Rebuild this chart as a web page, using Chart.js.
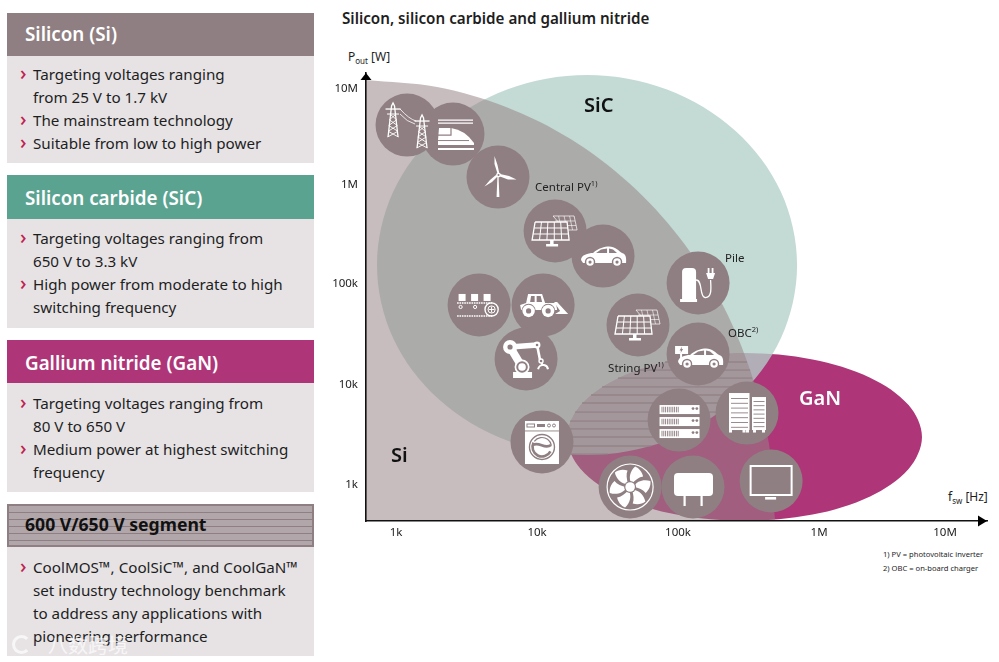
<!DOCTYPE html>
<html>
<head>
    <title>Silicon, silicon carbide and gallium nitride</title>
    <script src="https://cdn.jsdelivr.net/npm/chart.js"></script>
    <style>
        html, body {
            margin: 0;
            background: #fff;
            width: 999px;
            height: 662px;
            overflow: hidden;
            font-family: "Noto Sans", sans-serif;
            color: #1e1e1e;
        }
        .head, .body, .txt { position: absolute; }
        .head {
            left: 7px;
            width: 307px;
            height: 43px;
            line-height: 43px;
            color: #fff;
            font-size: 18.8px;
            font-weight: 600;
            text-indent: 18px;
        }
        .body { left: 7px; width: 307px; background: #e7e3e5; }
        .line {
            position: absolute;
            left: 26px;
            height: 23px;
            line-height: 23px;
            font-size: 15.2px;
            white-space: nowrap;
        }
        .line i {
            position: absolute;
            left: -13px;
            top: -2px;
            font-size: 20px;
            font-style: normal;
            font-weight: 500;
            color: #c0224f;
        }
        #seg {
            top: 504px;
            height: 39px;
            line-height: 37px;
            width: 303px;
            border: 2px solid #8f7f82;
            color: #111;
            font-size: 17.6px;
            font-weight: 700;
            text-indent: 16px;
            background: repeating-linear-gradient(#b1a7aa 0, #b1a7aa 6px, #8f7f82 6px, #8f7f82 7px);
        }
        #mark { position: absolute; left: 48px; top: 630px; font: 20px "Noto Sans CJK SC"; color: rgba(255,255,255,.7); white-space: nowrap; }
        #logo { position: absolute; left: 12px; top: 635px; width: 13px; height: 13px; border: 3px solid rgba(255,255,255,.7); border-right-color: transparent; border-radius: 50%; }
        #chartBox { position: absolute; left: 330px; top: 0; }
    </style>
</head>
<body>
    <div class="head" style="top:13px;background:#8f7f82">Silicon (Si)</div>
    <div class="body" style="top:56px;height:107px">
        <div class="line" style="top:7px"><i>›</i>Targeting voltages ranging</div>
        <div class="line" style="top:30px">from 25 V to 1.7 kV</div>
        <div class="line" style="top:53px"><i>›</i>The mainstream technology</div>
        <div class="line" style="top:76px"><i>›</i>Suitable from low to high power</div>
    </div>
    <div class="head" style="top:175px;height:44px;line-height:46px;background:#5ba391">Silicon carbide (SiC)</div>
    <div class="body" style="top:219px;height:109px">
        <div class="line" style="top:8px"><i>›</i>Targeting voltages ranging from</div>
        <div class="line" style="top:31px">650 V to 3.3 kV</div>
        <div class="line" style="top:54px"><i>›</i>High power from moderate to high</div>
        <div class="line" style="top:77px">switching frequency</div>
    </div>
    <div class="head" style="top:340px;line-height:46px;background:#ae3678">Gallium nitride (GaN)</div>
    <div class="body" style="top:383px;height:109px">
        <div class="line" style="top:9px"><i>›</i>Targeting voltages ranging from</div>
        <div class="line" style="top:32px">80 V to 650 V</div>
        <div class="line" style="top:55px"><i>›</i>Medium power at highest switching</div>
        <div class="line" style="top:78px">frequency</div>
    </div>
    <div class="head" id="seg">600 V/650 V segment</div>
    <div class="body" style="top:547px;height:109px">
        <div class="line" style="top:9px"><i>›</i>CoolMOS™, CoolSiC™, and CoolGaN™</div>
        <div class="line" style="top:32px">set industry technology benchmark</div>
        <div class="line" style="top:55px">to address any applications with</div>
        <div class="line" style="top:78px">pioneering performance</div>
    </div>
    <div id="logo"></div>
    <div id="mark">八数跨境</div>

    <div class="txt" style="left:342px;top:8px;font-size:15.2px;font-weight:600;white-space:nowrap">Silicon, silicon carbide and gallium nitride</div>
    <div class="txt" style="left:348px;top:48px;font-size:12px;white-space:nowrap">P<sub style="font-size:8px">out</sub> [W]</div>
    <div class="txt" style="left:948px;top:488px;font-size:12px;white-space:nowrap">f<sub style="font-size:8px">sw</sub> [Hz]</div>
    <div class="txt" style="left:883px;top:549px;font-size:7.6px;white-space:nowrap">1) PV = photovoltaic inverter</div>
    <div class="txt" style="left:883px;top:563px;font-size:7.6px;white-space:nowrap">2) OBC = on-board charger</div>

    <div id="chartBox"><canvas id="socChart" width="669" height="662"></canvas></div>

    <script>
        // Axes: switching frequency in Hz, output power in W, both log
        const xTickValues = [1e3, 1e4, 1e5, 1e6, 7.83e6];
        const xTickLabels = ['1k', '10k', '100k', '1M', '10M'];
        const yTickValues = [1e3, 1e4, 1.01e5, 1e6, 8.9e6];
        const yTickLabels = ['1k', '10k', '100k', '1M', '10M'];

        // Region outlines, as log10 of Hz and W
        const siLogF = [2.787, 3.291, 3.780, 4.238, 4.652, 5.007, 5.298, 5.511, 5.645, 5.688];
        const siLogP = [7.040, 6.970, 6.771, 6.451, 6.012, 5.474, 4.845, 4.147, 3.409, 2.641];

        // closed outlines: the ends overlap by one point each way so the seam stays smooth
        const sicLogF = [2.979, 2.865, 2.979, 3.301, 3.787, 4.355, 4.922, 5.408, 5.730, 5.844, 5.730, 5.408, 4.922, 4.355, 3.787, 3.301, 2.979, 2.865, 2.979];
        const sicLogP = [4.466, 5.195, 5.923, 6.531, 6.945, 7.090, 6.945, 6.531, 5.923, 5.195, 4.466, 3.858, 3.444, 3.299, 3.444, 3.858, 4.466, 5.195, 5.923];

        const ganLogF = [4.309, 4.213, 4.309, 4.582, 4.989, 5.472, 5.954, 6.362, 6.635, 6.730, 6.635, 6.362, 5.954, 5.472, 4.989, 4.582, 4.309, 4.213, 4.309];
        const ganLogP = [3.160, 3.479, 3.798, 4.071, 4.253, 4.317, 4.253, 4.071, 3.798, 3.479, 3.160, 2.886, 2.705, 2.641, 2.705, 2.886, 3.160, 3.479, 3.798];

        // 600 V/650 V hatching: one row per stripe
        const stripeLogP = [4.227, 4.147, 4.067, 3.978, 3.898, 3.818, 3.728, 3.638, 3.559, 3.479, 3.389, 3.309];
        const stripeFrom = [4.908, 4.716, 4.574, 4.461, 4.383, 4.319, 4.270, 4.234, 4.220, 4.213, 4.220, 4.241];
        const stripeTo   = [5.489, 5.511, 5.525, 5.496, 5.440, 5.376, 5.298, 5.206, 5.106, 4.986, 4.809, 4.504];

        // Applications
        const appNames = ['grid', 'train', 'wind', 'solar', 'car', 'conveyor', 'loader', 'robot', 'solar', 'pile', 'obc', 'servers', 'rack', 'washer', 'fan', 'adapter', 'tv'];
        const appLogF = [3.078, 3.404, 3.723, 4.128, 4.468, 3.589, 4.043, 3.922, 4.716, 5.142, 5.142, 5.007, 5.489, 4.035, 4.660, 5.106, 5.660];
        const appLogP = [6.591, 6.501, 6.072, 5.534, 5.284, 4.796, 4.796, 4.257, 4.596, 5.015, 4.307, 3.648, 3.718, 3.429, 2.980, 2.980, 3.040];

        // Text inside the plot
        const noteText = ['Central PV', 'Pile', 'OBC', 'String PV'];
        const noteSup = ['1)', '', '2)', '1)'];
        const noteLogF = [3.986, 5.333, 5.355, 4.504];
        const noteLogP = [5.963, 5.254, 4.506, 4.157];
        const regionText = ['SiC', 'GaN', 'Si'];
        const regionColor = ['#111', '#fff', '#111'];
        const regionLogF = [4.333, 5.858, 2.965];
        const regionLogP = [6.776, 3.860, 3.290];

        const disc = '#8f7f82';
        const toPoints = (fs, ps) => fs.map((f, i) => ({ x: 10 ** f, y: 10 ** ps[i] }));

        function stripePoints() {
            const pts = [];
            stripeLogP.forEach((p, i) => {
                pts.push({ x: 10 ** stripeFrom[i], y: 10 ** p }, { x: 10 ** stripeTo[i], y: 10 ** p }, { x: null, y: null });
            });
            return pts;
        }

        function line(c, pts, w) {
            c.lineWidth = w;
            c.beginPath();
            pts.forEach((p, i) => i ? c.lineTo(p[0], p[1]) : c.moveTo(p[0], p[1]));
            c.stroke();
        }
        function shape(c, pts) {
            c.beginPath();
            pts.forEach((p, i) => i ? c.lineTo(p[0], p[1]) : c.moveTo(p[0], p[1]));
            c.closePath();
            c.fill();
        }
        function dot(c, x, y, r, color) {
            c.fillStyle = color || '#fff';
            c.beginPath();
            c.arc(x, y, r, 0, Math.PI * 2);
            c.fill();
            c.fillStyle = '#fff';
        }
        function tower(c, x, top, h) {
            const b = top + h;
            line(c, [[x - 5, b], [x - 1.5, top + 3], [x, top], [x + 1.5, top + 3], [x + 5, b]], 1.3);
            line(c, [[x - 7.5, top + 6], [x + 7.5, top + 6]], 1.3);
            line(c, [[x - 6, top + 11], [x + 6, top + 11]], 1);
            for (let k = 0; k < 4; k++) {
                const y1 = top + 11 + k * (h - 11) / 4, y2 = y1 + (h - 11) / 4;
                const w1 = 2 + (y1 - top) * 0.1, w2 = 2 + (y2 - top) * 0.1;
                line(c, [[x - w1, y1], [x + w2, y2]], 0.9);
                line(c, [[x + w1, y1], [x - w2, y2]], 0.9);
            }
        }
        function panel(c) {
            c.strokeStyle = '#fff';
            const back = [[-2, -15], [19, -15], [22, -1], [10, -1]];
            line(c, back.concat([back[0]]), 0.7);
            for (let k = 1; k < 4; k++) {
                line(c, [[-2 + k * 5.5, -15], [1 + k * 5.5, -1]], 0.6);
            }
            line(c, [[0, -10], [20, -10]], 0.6);
            line(c, [[1, -5.5], [21, -5.5]], 0.6);
            c.fillStyle = disc;
            shape(c, [[-20, -9], [12, -9], [14, 9], [-23, 9]]);
            c.fillStyle = '#fff';
            line(c, [[-20, -9], [12, -9], [14, 9], [-23, 9], [-20, -9]], 1.3);
            line(c, [[-21, -3], [13, -3]], 1);
            line(c, [[-22, 3], [13.5, 3]], 1);
            for (let k = 1; k < 5; k++) {
                line(c, [[-20 + k * 6.4, -9], [-23 + k * 7.4, 9]], 1);
            }
            c.fillRect(-5, 9, 3.5, 4);
            c.fillRect(-9, 13, 12, 2.5);
        }
        function car(c) {
            c.beginPath();
            c.moveTo(-22, 4);
            c.bezierCurveTo(-22, -1, -15, -3, -10, -3);
            c.bezierCurveTo(-5, -8, 2, -9.5, 6, -9.5);
            c.bezierCurveTo(12, -9.5, 16, -5, 19, -3);
            c.bezierCurveTo(23, -2, 23.5, 2, 23, 7);
            c.lineTo(-20, 7);
            c.closePath();
            c.fill();
            c.fillStyle = disc;
            shape(c, [[-7, -3], [-2, -6.5], [4, -7.5], [4, -3]]);
            shape(c, [[6, -7.5], [10, -6.5], [14, -3], [6, -3]]);
            c.fillStyle = '#fff';
            [-13, 14].forEach(x => {
                dot(c, x, 6, 5.2, disc);
                dot(c, x, 6, 3.8);
                dot(c, x, 6, 1.6, disc);
            });
        }

        const icons = {
            grid(c) {
                tower(c, -14, -22, 34);
                tower(c, 15, -10, 33);
                c.lineWidth = 0.8;
                c.beginPath();
                c.moveTo(-7, -16);
                c.quadraticCurveTo(2, -6, 9, -4);
                c.moveTo(-7, -11);
                c.quadraticCurveTo(0, -3, 8, -1);
                c.stroke();
            },
            train(c) {
                line(c, [[-15, -14], [20, -14]], 1.2);
                line(c, [[-15, -11], [20, -11]], 1.2);
                c.beginPath();
                c.moveTo(-14, -6);
                c.lineTo(-2, -6);
                c.quadraticCurveTo(12, -4, 21, 9);
                c.lineTo(21, 11);
                c.lineTo(-15, 11);
                c.lineTo(-15, 6);
                c.closePath();
                c.fill();
                c.strokeStyle = disc;
                line(c, [[-16, 1], [-2, 1], [-2, -6]], 1.2);
                line(c, [[-16, 6.5], [16, 6.5]], 1);
                c.strokeStyle = '#fff';
                line(c, [[-15, 15], [21, 15]], 2);
            },
            wind(c) {
                shape(c, [[-0.6, 0], [0.6, 0], [1.4, 20], [-1.4, 20]]);
                dot(c, 0.5, -2, 2.4);
                shape(c, [[-0.5, -3.5], [1.5, -3], [-0.5, -12], [-3.5, -21], [-3.5, -13]]);
                shape(c, [[2, -3], [2, -0.5], [10, 2.5], [18.5, 2.5], [11, -1]]);
                shape(c, [[0, -1], [-2, -2], [-8, 3], [-13.5, 9.5], [-6, 5]]);
                dot(c, 0.5, -2, 1, disc);
            },
            solar: panel,
            car,
            conveyor(c) {
                c.fillRect(-20.5, -11, 7, 7);
                c.fillRect(-8, -11, 7, 7);
                c.fillRect(4.5, -11, 7, 7);
                c.setLineDash([1.6, 0.8]);
                line(c, [[-22, -2], [14, -2]], 1.6);
                line(c, [[-22, 11], [14, 11]], 1.6);
                c.setLineDash([]);
                c.lineWidth = 1.4;
                c.beginPath();
                c.arc(12.5, 4.5, 6.6, 0, Math.PI * 2);
                c.stroke();
                c.lineWidth = 1;
                c.beginPath();
                c.arc(12.5, 4.5, 3.6, 0, Math.PI * 2);
                c.moveTo(9.5, 4.5);
                c.lineTo(15.5, 4.5);
                c.moveTo(12.5, 1.5);
                c.lineTo(12.5, 7.5);
                c.stroke();
                [-18.5, -4].forEach(x => {
                    c.beginPath();
                    c.arc(x, 2, 1.6, 0, Math.PI * 2);
                    c.stroke();
                });
            },
            loader(c) {
                shape(c, [[-15, -11], [-1, -11], [2, -2], [13, -2], [14, 5], [-22, 5], [-23, 0], [-17, -2]]);
                c.fillStyle = disc;
                shape(c, [[-12, -9], [-8.5, -9], [-8.5, -3], [-13, -3]]);
                shape(c, [[-6.5, -9], [-2.5, -9], [-1, -3], [-6.5, -3]]);
                c.fillStyle = '#fff';
                shape(c, [[11, -3], [14, -3], [25, 9], [12, 9], [17, 6]]);
                [-14.5, 5].forEach(x => {
                    dot(c, x, 6, 7.2, disc);
                    dot(c, x, 6, 6.2);
                    dot(c, x, 6, 2.6, disc);
                });
            },
            robot(c) {
                c.fillRect(-13, 13, 19, 6);
                line(c, [[-4, 8], [-16, -12]], 8);
                line(c, [[-16, -12], [11, -14]], 5.5);
                line(c, [[11, -14], [14, 1]], 2.6);
                dot(c, -4, 8, 7.5);
                dot(c, -4, 8, 5.8, disc);
                dot(c, -4, 8, 3.8);
                dot(c, -16, -12, 7);
                dot(c, -16, -12, 2.6, disc);
                dot(c, 11, -14, 3.4);
                dot(c, 11, -14, 1.3, disc);
                c.lineWidth = 1.4;
                c.beginPath();
                c.arc(15, 2, 2, 0, Math.PI * 2);
                c.stroke();
                c.lineWidth = 2;
                c.beginPath();
                c.arc(17, 11, 5, Math.PI * 1.05, Math.PI * 1.95);
                c.stroke();
                line(c, [[15.5, 4], [16.8, 6.5]], 2);
            },
            pile(c) {
                c.beginPath();
                c.moveTo(-16, 16);
                c.lineTo(-16, -11);
                c.quadraticCurveTo(-16, -15, -12, -15);
                c.lineTo(-6, -15);
                c.quadraticCurveTo(-2, -15, -2, -11);
                c.lineTo(-2, 16);
                c.closePath();
                c.fill();
                c.fillRect(-18, 16, 17, 3);
                c.lineWidth = 1.3;
                c.beginPath();
                c.moveTo(-2, -3);
                c.bezierCurveTo(5, -3, 1, 14, 7, 14.5);
                c.bezierCurveTo(14, 15, 13, 5, 12.5, -3);
                c.stroke();
                c.beginPath();
                c.moveTo(8, -10);
                c.lineTo(17, -10);
                c.lineTo(15, -4);
                c.lineTo(10, -4);
                c.closePath();
                c.fill();
                c.fillRect(9.6, -15, 1.8, 5);
                c.fillRect(13.6, -15, 1.8, 5);
            },
            obc(c) {
                c.save();
                c.translate(2, 4);
                car(c);
                c.restore();
                c.fillStyle = disc;
                c.fillRect(-24, -9, 15, 10);
                c.fillStyle = '#fff';
                c.fillRect(-23, -8, 13, 8);
                c.fillRect(-18, 0, 2, 4);
                c.fillStyle = disc;
                shape(c, [[-16, -7.5], [-18.5, -3.5], [-17, -3.5], [-17.5, -1], [-15, -5], [-16.5, -5]]);
                c.fillStyle = '#fff';
            },
            servers(c) {
                [-15, -3, 9].forEach(y => {
                    c.fillStyle = '#fff';
                    c.fillRect(-19.5, y, 40, 9);
                    c.fillStyle = disc;
                    for (let k = 0; k < 10; k++) {
                        c.fillRect(-17.5 + k * 1.8, y + 1.7, 0.9, 5.6);
                    }
                });
                c.fillStyle = '#fff';
                [-10.5, 1.5, 13.5].forEach(y => {
                    dot(c, 14, y - 1, 1.4, disc);
                    dot(c, 17.8, y - 1, 1.4, disc);
                });
            },
            rack(c) {
                c.fillRect(-18, -20, 20.5, 37);
                c.fillRect(5, -16, 14, 33);
                [-18, -4.5, -1, 6, 15].forEach(x => c.fillRect(x, 17, 3, 2.5));
                c.fillStyle = disc;
                for (let k = 0; k < 7; k++) {
                    c.fillRect(-16, -15 + k * 4.8, 17, 0.9);
                    c.fillRect(6.5, -12 + k * 4.2, 11, 0.9);
                }
                c.fillStyle = '#fff';
            },
            washer(c) {
                c.fillRect(-17, -21, 34, 43);
                c.fillStyle = disc;
                c.fillRect(-17, -11.5, 34, 0.9);
                c.fillRect(-5, -18, 8, 3);
                c.fillStyle = '#fff';
                c.strokeStyle = disc;
                c.lineWidth = 1;
                c.strokeRect(-15, -18, 7.5, 3);
                [7, 12].forEach(x => {
                    c.beginPath();
                    c.arc(x, -16.5, 1.5, 0, Math.PI * 2);
                    c.stroke();
                });
                c.lineWidth = 1.4;
                c.beginPath();
                c.arc(0, 5, 12.5, 0, Math.PI * 2);
                c.stroke();
                c.lineWidth = 2.6;
                c.beginPath();
                c.arc(0, 5, 9.5, Math.PI * 0.15, Math.PI * 1.15);
                c.stroke();
                c.beginPath();
                c.moveTo(-9, 3);
                c.bezierCurveTo(-3, -1, 3, 8, 9, 3);
                c.stroke();
                c.lineWidth = 1.2;
                c.beginPath();
                c.arc(0, 5, 9.5, Math.PI * 1.2, Math.PI * 1.95);
                c.stroke();
                c.strokeStyle = '#fff';
            },
            fan(c) {
                c.lineWidth = 1.2;
                c.beginPath();
                c.arc(0, 0, 23, 0, Math.PI * 2);
                c.stroke();
                for (let k = 0; k < 6; k++) {
                    c.save();
                    c.rotate(k * Math.PI / 3);
                    c.beginPath();
                    c.moveTo(1.5, -3);
                    c.bezierCurveTo(-2, -9, 0, -16, 5, -20.5);
                    c.bezierCurveTo(9, -19, 12, -15, 13, -10.5);
                    c.bezierCurveTo(9, -10, 5, -7, 1.5, -3);
                    c.fill();
                    c.restore();
                }
                dot(c, 0, 0, 6, disc);
                dot(c, 0, 0, 4.8);
            },
            adapter(c) {
                c.beginPath();
                c.roundRect(-19, -14, 39, 23, 4);
                c.fill();
                c.fillRect(-9.5, 9, 2.2, 10);
                c.fillRect(7.5, 9, 2.2, 10);
            },
            tv(c) {
                c.lineWidth = 2;
                c.strokeRect(-20.5, -15, 41, 29);
                c.fillRect(-6, 16, 11, 2.6);
            }
        };

        const drawApps = {
            id: 'drawApps',
            afterDatasetsDraw(chart) {
                const c = chart.ctx;
                const meta = chart.getDatasetMeta(3);
                meta.data.forEach((el, i) => {
                    c.save();
                    c.translate(el.x, el.y);
                    c.fillStyle = '#fff';
                    c.strokeStyle = '#fff';
                    c.lineCap = 'butt';
                    icons[appNames[i]](c);
                    c.restore();
                });

                const xs = chart.scales.x, ys = chart.scales.y;
                c.save();
                c.textBaseline = 'middle';
                c.textAlign = 'left';
                noteText.forEach((t, i) => {
                    const x = xs.getPixelForValue(10 ** noteLogF[i]);
                    const y = ys.getPixelForValue(10 ** noteLogP[i]);
                    c.fillStyle = '#222';
                    c.font = '11.5px "Noto Sans"';
                    c.fillText(t, x, y);
                    const w = c.measureText(t).width;
                    c.font = '7.5px "Noto Sans"';
                    c.fillText(noteSup[i], x + w, y - 4);
                });
                c.font = '600 20px "Noto Sans"';
                regionText.forEach((t, i) => {
                    c.fillStyle = regionColor[i];
                    c.fillText(t, xs.getPixelForValue(10 ** regionLogF[i]), ys.getPixelForValue(10 ** regionLogP[i]));
                });
                c.restore();
            },
            afterDraw(chart) {
                // axis arrow heads
                const c = chart.ctx, a = chart.chartArea;
                c.save();
                c.fillStyle = '#000';
                shape(c, [[a.left, a.top], [a.left + 5.5, a.top + 7], [a.left - 5.5, a.top + 7]]);
                shape(c, [[a.right, a.bottom], [a.right - 9, a.bottom - 5.5], [a.right - 9, a.bottom + 5.5]]);
                c.restore();
            }
        };

        const tickFont = { family: '"Noto Sans"', size: 11.5 };

        new Chart(document.getElementById('socChart').getContext('2d'), {
            type: 'scatter',
            data: {
                datasets: [
                    // lower order is painted later
                    { label: 'Si', data: toPoints(siLogF, siLogP), showLine: true, order: 4, fill: 'start', tension: 0.34, borderWidth: 0, pointRadius: 0, backgroundColor: 'rgba(149,130,132,0.53)' },
                    { label: 'SiC', data: toPoints(sicLogF, sicLogP), showLine: true, order: 5, fill: 'shape', tension: 0.34, borderWidth: 0, pointRadius: 0, backgroundColor: 'rgba(179,208,201,0.78)' },
                    { label: 'GaN', data: toPoints(ganLogF, ganLogP), showLine: true, order: 6, fill: 'shape', tension: 0.34, borderWidth: 0, pointRadius: 0, backgroundColor: '#ae3678' },
                    { label: 'Applications', data: toPoints(appLogF, appLogP), order: 1, pointRadius: 31.5, borderWidth: 0, backgroundColor: disc, hoverRadius: 31.5 },
                    { label: '600 V/650 V', data: stripePoints(), showLine: true, order: 3, spanGaps: false, tension: 0, borderWidth: 1.8, pointRadius: 0, borderColor: 'rgba(143,127,130,0.65)' }
                ]
            },
            plugins: [drawApps],
            options: {
                responsive: false,
                animation: false,
                events: [],
                layout: { autoPadding: false, padding: { left: 0, top: 73, right: 12, bottom: 101 } },
                plugins: { legend: { display: false }, tooltip: { enabled: false } },
                scales: {
                    x: {
                        type: 'logarithmic',
                        min: 10 ** 2.787,
                        max: 10 ** 7.191,
                        grid: { display: false, drawTicks: false },
                        border: { color: '#111', width: 1.6, z: 2 },
                        afterBuildTicks: axis => { axis.ticks = xTickValues.map(value => ({ value })); },
                        afterFit: axis => { axis.height = 40; },
                        ticks: { autoSkip: false, maxRotation: 0, padding: 5, color: '#222', font: tickFont, callback: (v, i) => xTickLabels[i] }
                    },
                    y: {
                        type: 'logarithmic',
                        min: 10 ** 2.641,
                        max: 10 ** 7.110,
                        grid: { display: false, drawTicks: false },
                        border: { color: '#111', width: 1.6, z: 2 },
                        afterBuildTicks: axis => { axis.ticks = yTickValues.map(value => ({ value })); },
                        afterFit: axis => { axis.width = 36; },
                        ticks: { autoSkip: false, padding: 8, color: '#222', font: tickFont, callback: (v, i) => yTickLabels[i] }
                    }
                }
            }
        });
    </script>
</body>
</html>
